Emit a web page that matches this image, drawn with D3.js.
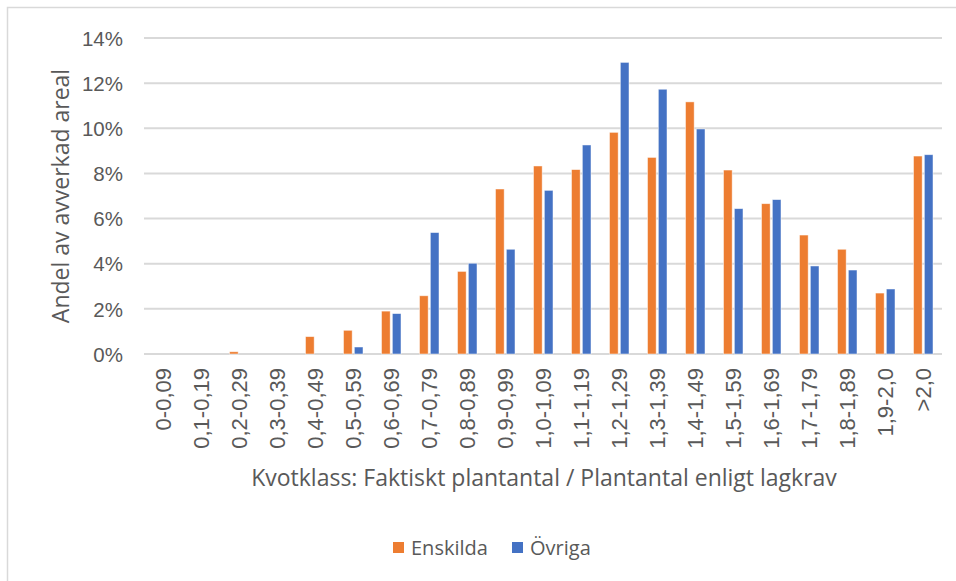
<!DOCTYPE html>
<html>
<head>
<meta charset="utf-8">
<script src="https://cdn.jsdelivr.net/npm/d3@7"></script>
<style>
  body { margin:0; background:#fff; }
  svg { display:block; font-family:"Open Sans", sans-serif; }
  .tick text { fill:#595959; }
</style>
</head>
<body>
<svg id="chart" width="956" height="581"></svg>
<script>
// kvotklasser
var categories = ["0-0,09","0,1-0,19","0,2-0,29","0,3-0,39","0,4-0,49","0,5-0,59","0,6-0,69","0,7-0,79","0,8-0,89","0,9-0,99",
  "1,0-1,09","1,1-1,19","1,2-1,29","1,3-1,39","1,4-1,49","1,5-1,59","1,6-1,69","1,7-1,79","1,8-1,89","1,9-2,0",">2,0"];
var enskilda = [0,0,0.1,0,0.77,1.05,1.9,2.58,3.66,7.31,8.33,8.17,9.82,8.71,11.17,8.15,6.66,5.27,4.64,2.7,8.77];
var ovriga   = [0,0,0,0,0,0.31,1.79,5.38,4.02,4.64,7.25,9.26,12.92,11.73,9.97,6.44,6.84,3.9,3.72,2.88,8.83];
var series = ["Enskilda","Övriga"];
var colors = ["#ED7D31","#4472C4"];
var yTicks = [0,2,4,6,8,10,12,14];

var svg = d3.select("#chart");
var plotLeft = 144, plotRight = 942, plotTop = 38, plotBottom = 354;

// ram runt diagrammet
svg.append("rect").attr("x",7.5).attr("y",7.5).attr("width",1000).attr("height",1000)
  .attr("fill","none").attr("stroke","#d9d9d9").attr("stroke-width",1.5);

var x = d3.scaleBand().domain(categories).range([plotLeft,plotRight]);
var xs = d3.scaleBand().domain(series).range([-9.5,10]).paddingInner(0.2);
var y = d3.scaleLinear().domain([0,14]).range([plotBottom,plotTop]);

// stödlinjer
svg.append("g").selectAll("line").data(yTicks).enter().append("line")
  .attr("x1",plotLeft).attr("x2",plotRight)
  .attr("y1",function(d){return y(d);}).attr("y2",function(d){return y(d);})
  .attr("stroke","#d9d9d9").attr("stroke-width",2);

var yAxis = svg.append("g").attr("transform","translate(123,0)")
  .call(d3.axisLeft(y).tickValues(yTicks).tickSize(0).tickPadding(0).tickFormat(function(d){return d+"%";}));
yAxis.select(".domain").remove();
yAxis.selectAll("text").attr("font-size",20.5).attr("dy","0.35em");

var data = categories.map(function(c,i){ return {cat:c, vals:[enskilda[i],ovriga[i]]}; });

var groups = svg.append("g").selectAll("g").data(data).enter().append("g")
  .attr("transform",function(d){return "translate("+(x(d.cat)+x.bandwidth()/2)+",0)";});
groups.selectAll("rect").data(function(d){return d.vals.map(function(v,j){return {s:series[j],v:v,c:colors[j]};});})
  .enter().filter(function(d){return d.v>0;}).append("rect")
  .attr("x",function(d){return xs(d.s);})
  .attr("width",xs.bandwidth())
  .attr("y",function(d){return y(d.v);})
  .attr("height",function(d){return plotBottom-y(d.v);})
  .attr("fill",function(d){return d.c;})
  .attr("stroke","#fff").attr("stroke-opacity",0.6).attr("stroke-width",0.8);

var xAxis = svg.append("g").attr("transform","translate(0,"+(plotBottom+14)+")")
  .call(d3.axisBottom(x).tickSize(0));
xAxis.select(".domain").remove();
xAxis.selectAll("text")
  .attr("font-size",22).attr("transform","rotate(-90)")
  .attr("x",0).attr("y",0).attr("dx",0).attr("dy","0.35em")
  .style("text-anchor","end");

// axeltitlar
svg.append("text").attr("x",544).attr("y",478).attr("dy","0.35em")
  .attr("text-anchor","middle").attr("font-size",23).attr("fill","#595959")
  .text("Kvotklass: Faktiskt plantantal / Plantantal enligt lagkrav");
svg.append("text").attr("transform","translate(61,196) rotate(-90)").attr("dy","0.35em")
  .attr("text-anchor","middle").attr("font-size",23).attr("fill","#595959")
  .text("Andel av avverkad areal");

// legend
var legend = svg.append("g");
var lx = [393,512];
series.forEach(function(s,i){
  legend.append("rect").attr("x",lx[i]).attr("y",542).attr("width",11).attr("height",11).attr("fill",colors[i]);
  legend.append("text").attr("x",lx[i]+18).attr("y",548).attr("dy","0.35em")
    .attr("font-size",20).attr("fill","#595959").text(s);
});
</script>
</body>
</html>
